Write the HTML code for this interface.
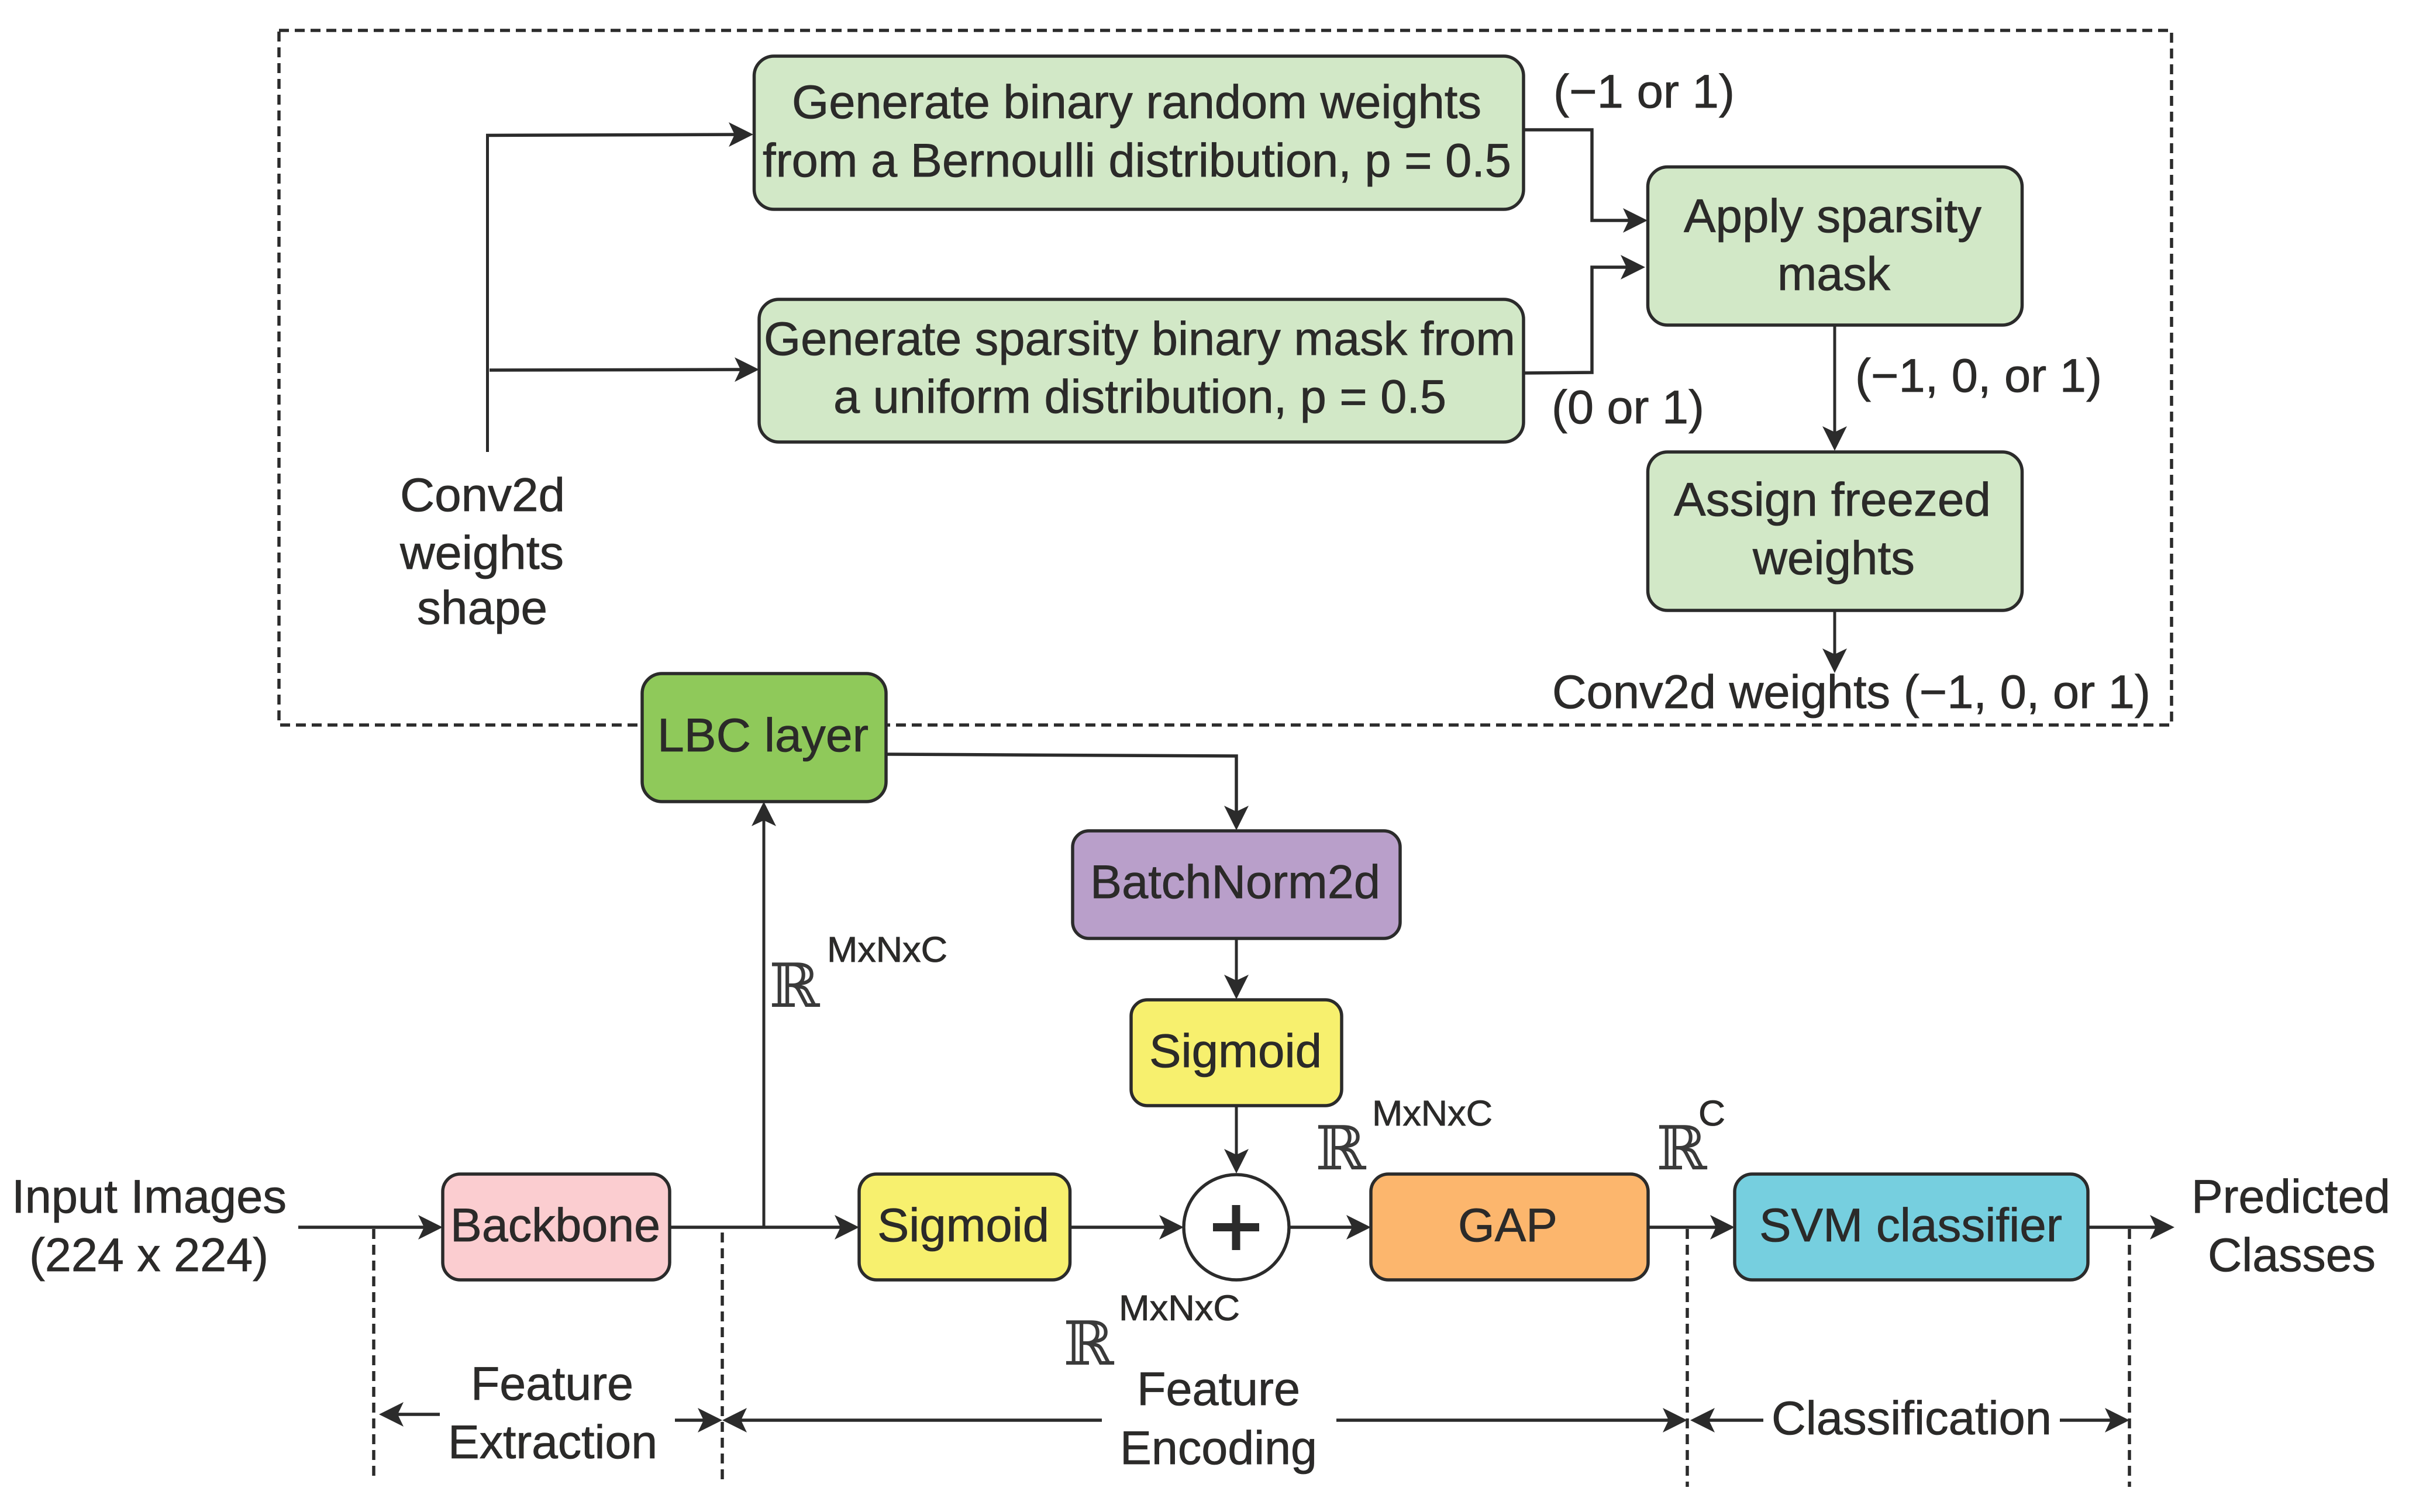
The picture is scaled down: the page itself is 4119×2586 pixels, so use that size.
<!DOCTYPE html>
<html><head><meta charset="utf-8"><style>
html,body{margin:0;padding:0;background:#fff}
svg{display:block}
text{font-family:"Liberation Sans",Arial,sans-serif;font-size:81px;fill:#2b2a29;stroke:#2b2a29;stroke-width:.8}
.s{font-size:61px}
.r{font-family:"DejaVu Serif",serif;font-size:104px;stroke:none;fill:#3a3a3a}
.b{stroke:#2b2b2b;stroke-width:5.5}
.l{fill:none;stroke:#2b2b2b;stroke-width:5.5}
.t{fill:none;stroke:#2b2b2b;stroke-width:5}
.d{fill:none;stroke:#2b2b2b;stroke-width:5.5;stroke-dasharray:17 10}
</style></head><body>
<svg width="4119" height="2586" viewBox="0 0 4119 2586" xmlns="http://www.w3.org/2000/svg">
<defs>
<marker id="a" markerUnits="userSpaceOnUse" markerWidth="44" markerHeight="44" refX="32" refY="21" orient="auto"><path d="M42,21 L0,0 L10,21 L0,42 Z" fill="#2b2b2b"/></marker>
</defs>
<rect width="4119" height="2586" fill="#fff"/>
<rect x="477" y="52" width="3236" height="1188" class="d"/>

<!-- boxes -->
<rect class="b" x="1289.5" y="96" width="1315.5" height="262" rx="34" fill="#d2e8c7"/>
<rect class="b" x="1298" y="512" width="1307" height="244" rx="34" fill="#d2e8c7"/>
<rect class="b" x="2817.5" y="285.5" width="640" height="270.5" rx="34" fill="#d2e8c7"/>
<rect class="b" x="2817.5" y="773" width="640" height="271" rx="34" fill="#d2e8c7"/>
<rect class="b" x="1098" y="1152" width="417" height="219" rx="34" fill="#8fc95a"/>
<rect class="b" x="1834" y="1421" width="560" height="184" rx="28" fill="#b99fca"/>
<rect class="b" x="1934" y="1710" width="360" height="181" rx="28" fill="#f7f06e"/>
<rect class="b" x="757" y="2008" width="388" height="181" rx="30" fill="#fbcdd0"/>
<rect class="b" x="1469" y="2008" width="360.5" height="181" rx="30" fill="#f7f06e"/>
<rect class="b" x="2344" y="2008" width="474" height="181" rx="30" fill="#fcb66d"/>
<rect class="b" x="2966" y="2008" width="604" height="181" rx="30" fill="#76cfdf"/>
<circle class="b" cx="2114" cy="2099" r="90" fill="#fff"/>
<path d="M2074,2099H2153M2113.5,2061V2138" fill="none" stroke="#2b2b2b" stroke-width="14"/>

<!-- connectors -->
<path class="t" d="M833.5,773V231.5"/>
<path class="l" d="M831,231.5L1278,230" marker-end="url(#a)"/>
<path class="l" d="M837,633L1288,632" marker-end="url(#a)"/>
<path class="l" d="M2605,222H2722V377H2807" marker-end="url(#a)"/>
<path class="l" d="M2605,638L2722,637V457H2803" marker-end="url(#a)"/>
<path class="t" d="M3137,556V761" marker-end="url(#a)"/>
<path class="t" d="M3137,1044V1141" marker-end="url(#a)"/>
<path class="l" d="M1515,1290L2114,1293V1410" marker-end="url(#a)"/>
<path class="t" d="M2114,1605V1699" marker-end="url(#a)"/>
<path class="t" d="M2114,1891V1997" marker-end="url(#a)"/>
<path class="t" d="M1306,2099V1381" marker-end="url(#a)"/>
<path class="l" d="M510,2099H747" marker-end="url(#a)"/>
<path class="l" d="M1145,2099H1459" marker-end="url(#a)"/>
<path class="l" d="M1829,2099H2014" marker-end="url(#a)"/>
<path class="l" d="M2203,2099H2334" marker-end="url(#a)"/>
<path class="l" d="M2818,2099H2956" marker-end="url(#a)"/>
<path class="l" d="M3570,2099H3708" marker-end="url(#a)"/>

<!-- dashed verticals -->
<path class="d" d="M639,2102V2524"/>
<path class="d" d="M1235,2108V2532"/>
<path class="d" d="M2885,2102V2543"/>
<path class="d" d="M3641,2102V2543"/>

<!-- bottom arrows -->
<path class="l" d="M752,2419H658" marker-end="url(#a)"/>
<path class="l" d="M1154,2429H1225" marker-end="url(#a)"/>
<path class="l" d="M1884,2429H1245" marker-end="url(#a)"/>
<path class="l" d="M2285,2429H2875" marker-end="url(#a)"/>
<path class="l" d="M3015,2429H2900" marker-end="url(#a)"/>
<path class="l" d="M3522,2429H3631" marker-end="url(#a)"/>

<!-- text -->
<text x="1354" y="202" textLength="1179" lengthAdjust="spacingAndGlyphs">Generate binary random weights</text>
<text x="1304" y="302" textLength="1280" lengthAdjust="spacingAndGlyphs">from a Bernoulli distribution, p = 0.5</text>
<text x="1306" y="607" textLength="1285" lengthAdjust="spacingAndGlyphs">Generate sparsity binary mask from</text>
<text x="1425" y="706" textLength="1048" lengthAdjust="spacingAndGlyphs">a uniform distribution, p = 0.5</text>
<text x="2656" y="184" textLength="310" lengthAdjust="spacingAndGlyphs">(−1 or 1)</text>
<text x="2653" y="724" textLength="261" lengthAdjust="spacingAndGlyphs">(0 or 1)</text>
<text x="3172" y="670" textLength="422" lengthAdjust="spacingAndGlyphs">(−1, 0, or 1)</text>
<text x="2879" y="397" textLength="509" lengthAdjust="spacingAndGlyphs">Apply sparsity</text>
<text x="3039" y="496" textLength="193" lengthAdjust="spacingAndGlyphs">mask</text>
<text x="2862" y="882" textLength="542" lengthAdjust="spacingAndGlyphs">Assign freezed</text>
<text x="2997" y="982" textLength="277" lengthAdjust="spacingAndGlyphs">weights</text>
<text x="2654" y="1211" textLength="1023" lengthAdjust="spacingAndGlyphs">Conv2d weights (−1, 0, or 1)</text>
<text x="684" y="874" textLength="282" lengthAdjust="spacingAndGlyphs">Conv2d</text>
<text x="684" y="973" textLength="280" lengthAdjust="spacingAndGlyphs">weights</text>
<text x="713" y="1067" textLength="223" lengthAdjust="spacingAndGlyphs">shape</text>
<text x="1124" y="1285" textLength="361" lengthAdjust="spacingAndGlyphs">LBC layer</text>
<text x="1864" y="1536" textLength="496" lengthAdjust="spacingAndGlyphs">BatchNorm2d</text>
<text x="1965" y="1825" textLength="295" lengthAdjust="spacingAndGlyphs">Sigmoid</text>
<text x="20" y="2074" textLength="470" lengthAdjust="spacingAndGlyphs">Input Images</text>
<text x="50" y="2174" textLength="409" lengthAdjust="spacingAndGlyphs">(224 x 224)</text>
<text x="770" y="2123" textLength="359" lengthAdjust="spacingAndGlyphs">Backbone</text>
<text x="1500" y="2123" textLength="294" lengthAdjust="spacingAndGlyphs">Sigmoid</text>
<text x="2493" y="2123" textLength="170" lengthAdjust="spacingAndGlyphs">GAP</text>
<text x="3008" y="2123" textLength="518" lengthAdjust="spacingAndGlyphs">SVM classifier</text>
<text x="3747" y="2074" textLength="340" lengthAdjust="spacingAndGlyphs">Predicted</text>
<text x="3775" y="2174" textLength="287" lengthAdjust="spacingAndGlyphs">Classes</text>
<text x="805" y="2394" textLength="278" lengthAdjust="spacingAndGlyphs">Feature</text>
<text x="766" y="2494" textLength="358" lengthAdjust="spacingAndGlyphs">Extraction</text>
<text x="1944" y="2403" textLength="279" lengthAdjust="spacingAndGlyphs">Feature</text>
<text x="1915" y="2504" textLength="337" lengthAdjust="spacingAndGlyphs">Encoding</text>
<text x="3029" y="2453" textLength="479" lengthAdjust="spacingAndGlyphs">Classification</text>

<text class="s" x="1414" y="1645" textLength="206" lengthAdjust="spacingAndGlyphs">MxNxC</text>
<text class="s" x="2346" y="1925" textLength="206" lengthAdjust="spacingAndGlyphs">MxNxC</text>
<text class="s" x="1913" y="2258" textLength="207" lengthAdjust="spacingAndGlyphs">MxNxC</text>
<text class="s" x="2904" y="1925" textLength="46" lengthAdjust="spacingAndGlyphs">C</text>
<text class="r" x="1315" y="1722">ℝ</text>
<text class="r" x="2249" y="2000">ℝ</text>
<text class="r" x="2832" y="2000">ℝ</text>
<text class="r" x="1818" y="2334">ℝ</text>
</svg>
</body></html>
